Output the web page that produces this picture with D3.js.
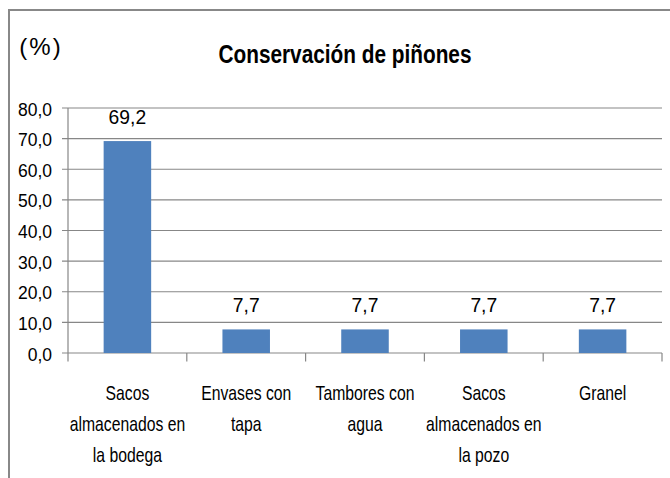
<!DOCTYPE html>
<html><head><meta charset="utf-8">
<script src="https://cdn.jsdelivr.net/npm/d3@7"></script>
<style>body{margin:0;background:#fff}svg{display:block}text{font-family:"Liberation Sans",Arial,sans-serif;fill:#000}</style>
</head><body>
<script>
const categories = [["Sacos","almacenados en","la bodega"],["Envases con","tapa"],["Tambores con","agua"],["Sacos","almacenados en","la pozo"],["Granel"]];
const values = [69.2, 7.7, 7.7, 7.7, 7.7];
const valueLabels = ["69,2","7,7","7,7","7,7","7,7"];
const yTicks = [0,10,20,30,40,50,60,70,80];
const title = "Conservación de piñones";
const yUnit = "(%)";

const W=670,H=478;
const svg=d3.select("body").append("svg").attr("width",W).attr("height",H);
svg.append("rect").attr("x",9).attr("y",10).attr("width",W+20).attr("height",H+20).attr("fill","none").attr("stroke","#888").attr("stroke-width",2);

const x=d3.scaleBand().domain(d3.range(categories.length)).range([68,662]).paddingInner(0.6).paddingOuter(0.3);
const y=d3.scaleLinear().domain([0,80]).range([353,108]);
const fmt=v=>d3.format(".1f")(v).replace(".",",");

function stext(parent,px,py,sx,str,size,anchor,weight){
  const g=parent.append("g").attr("transform",`translate(${px},${py}) scale(${sx},1)`);
  return g.append("text").attr("text-anchor",anchor||"middle").attr("font-size",size).attr("font-weight",weight||"normal").text(str);
}
// gridlines
svg.append("g").selectAll("line").data(yTicks).join("line")
 .attr("x1",62).attr("x2",662).attr("y1",d=>y(d)).attr("y2",d=>y(d))
 .attr("stroke","#878787").attr("stroke-width",1.2);
svg.append("g").selectAll("text").data(yTicks).join("text")
 .attr("x",52).attr("y",d=>y(d)+7.5).attr("text-anchor","end")
 .attr("font-size",17.5).text(fmt);
// y axis line
svg.append("line").attr("x1",68).attr("x2",68).attr("y1",108).attr("y2",353).attr("stroke","#878787").attr("stroke-width",1.2);
// category ticks
const bw=(662-68)/categories.length;
svg.append("g").selectAll("line").data(d3.range(categories.length+1)).join("line")
 .attr("x1",d=>68+d*bw).attr("x2",d=>68+d*bw).attr("y1",353).attr("y2",361.5).attr("stroke","#878787").attr("stroke-width",1.2);
// bars
svg.append("g").selectAll("rect").data(values).join("rect")
 .attr("x",(d,i)=>x(i)).attr("width",x.bandwidth()).attr("y",d=>y(d)).attr("height",d=>y(0)-y(d)).attr("fill","#4F81BD");
// value labels
const vg=svg.append("g");
values.forEach((d,i)=>stext(vg,x(i)+x.bandwidth()/2,y(d)-17,0.92,valueLabels[i],21));
// category labels
const cg=svg.append("g");
categories.forEach((lines,i)=>lines.forEach((l,j)=>stext(cg,x(i)+x.bandwidth()/2,400+j*31,0.75,l,21)));
stext(svg,345,63,0.8,title,26,"middle","bold");
stext(svg,41,55,1,yUnit,24).attr("letter-spacing",2);
</script>
</body></html>
